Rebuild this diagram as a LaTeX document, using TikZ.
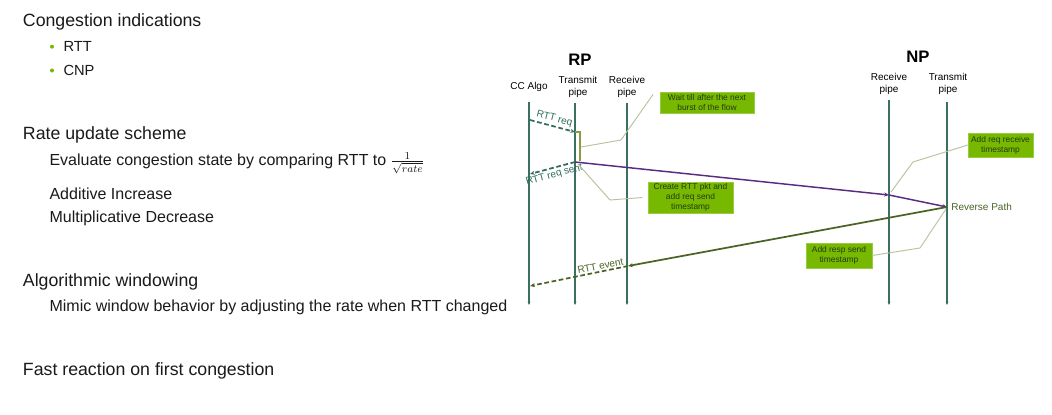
\documentclass[tikz,border=0pt]{standalone}
\usepackage{fontspec}
\setmainfont{Liberation Sans}
\usetikzlibrary{arrows.meta,positioning}
\definecolor{nvgreen}{HTML}{76B900}
\definecolor{bodytext}{HTML}{1A1A1A}
\definecolor{lifeteal}{HTML}{3B6F62}
\definecolor{reqteal}{HTML}{2F6E5C}
\definecolor{pktpurple}{HTML}{5A2B82}
\definecolor{respolive}{HTML}{4B6426}
\definecolor{calloutgrey}{HTML}{B9C19E}
\definecolor{bracketolive}{HTML}{8E9B45}
\definecolor{boxtext}{HTML}{263A0E}

\begin{document}
\begin{tikzpicture}[x=0.75pt, y=-0.75pt, >={Stealth[length=3.6pt,width=3pt]},
      headline/.style={anchor=base west, inner sep=0pt, text=bodytext, font=\fontsize{13.3}{16}\selectfont},
      subline/.style={anchor=base west, inner sep=0pt, text=bodytext, font=\fontsize{12}{14}\selectfont},
      itemline/.style={anchor=base west, inner sep=0pt, text=bodytext, font=\fontsize{11}{13}\selectfont},
      bulletdot/.style={circle, fill=nvgreen, inner sep=0pt, minimum size=3pt},
      side/.style={inner sep=0pt, font=\fontsize{12.5}{14}\selectfont\bfseries},
      pipelbl/.style={align=center, inner sep=0pt, font=\fontsize{7.5}{9}\selectfont},
      msglbl/.style={inner sep=1.5pt, font=\fontsize{7.5}{8}\selectfont},
      note/.style={fill=nvgreen, draw=nvgreen!75!white, align=center, text=boxtext, inner sep=1pt, font=\fontsize{6.3}{7.6}\selectfont},
      life/.style={-{Stealth[length=2.5pt,width=2.2pt]}, draw=lifeteal, line width=1.3pt},
      req/.style={->, draw=reqteal, line width=1.3pt, dash pattern=on 3.5pt off 2pt},
      pkt/.style={->, draw=pktpurple, line width=1.1pt},
      resp/.style={->, draw=respolive, line width=1.3pt},
      callout/.style={draw=calloutgrey, line width=0.7pt}
    ]
    \path[use as bounding box, fill=white] (0,0) rectangle (1052,414);

    \node[headline] (hIndic) at (22.7,26.7) {Congestion indications};
    \node[itemline] (bRtt) at (63.3,51.7) {RTT};
    \node[itemline] (bCnp) at (63.3,75) {CNP};
    \node[bulletdot] (dRtt) at (52,46.7) {};
    \node[bulletdot] (dCnp) at (52,70.5) {};
    \node[headline] (hRate) at (22.7,139.3) {Rate update scheme};
    \node[subline] (sEval) at (49.3,165.7) {Evaluate congestion state by comparing RTT to $\frac{1}{\sqrt{rate}}$};
    \node[subline] (sAdd) at (49.3,199) {Additive Increase};
    \node[subline] (sMul) at (49.3,222.3) {Multiplicative Decrease};
    \node[headline] (hWin) at (22.7,286.7) {Algorithmic windowing};
    \node[subline] (sMimic) at (49.3,311.7) {Mimic window behavior by adjusting the rate when RTT changed};
    \node[headline] (hFast) at (22.7,375) {Fast reaction on first congestion};

    \node[side] (rp) at (580,60) {RP};
    \node[side] (np) at (918,57) {NP};
    \node[pipelbl] (ccalgo) at (529,87) {CC Algo};
    \node[pipelbl] (rptx) at (578,87) {Transmit\\pipe};
    \node[pipelbl] (rprx) at (627,86.5) {Receive\\pipe};
    \node[pipelbl] (nprx) at (889,84) {Receive\\pipe};
    \node[pipelbl] (nptx) at (948,84) {Transmit\\pipe};

    \foreach \n/\x/\t in {cc/529/102, tx/575/103, rx/627/103, nrx/889/100, ntx/947/102} {
      \coordinate (\n top) at (\x,\t);
      \coordinate (\n bot) at (\x,305);
      \draw[life] (\n top) -- (\n bot);
    }

    \node[note, minimum width=70.5pt, minimum height=15.75pt] (wait) at (707,102.5) {Wait till after the next\\burst of the flow};
    \node[note, minimum width=63.75pt, minimum height=23.25pt] (create) at (690.5,197.5) {Create RTT pkt and\\add req send\\timestamp};
    \node[note, minimum width=48.75pt, minimum height=18pt] (recvts) at (1000.5,145) {Add req receive\\timestamp};
    \node[note, minimum width=49.5pt, minimum height=18.75pt] (respts) at (839,255.5) {Add resp send\\timestamp};
    \node[anchor=west, inner sep=0pt, text=respolive, font=\fontsize{7.5}{9}\selectfont] (revpath) at (951,207) {Reverse Path};

    \coordinate (ccReq) at (530,120);
    \coordinate (txReq) at (575,132);
    \coordinate (wTop) at (580,132);
    \coordinate (wBot) at (580,161);
    \coordinate (wMid) at (581,147);
    \coordinate (wKink) at (621,140);
    \coordinate (txSent) at (575,162);
    \coordinate (ccSent) at (530,174);
    \coordinate (cStart) at (578,164);
    \coordinate (cKink) at (610,200);
    \coordinate (npRx) at (889,195);
    \coordinate (npTx) at (947,207);
    \coordinate (rStart) at (891,192);
    \coordinate (rKink) at (913,162);
    \coordinate (sKink) at (920,248);
    \coordinate (sEnd) at (946,209);
    \coordinate (rpRx) at (628,266);
    \coordinate (ccEvt) at (530,286);

    \draw[req] (ccReq) -- node[msglbl, sloped, above, text=reqteal] (lblReq) {RTT req} (txReq);
    \draw[draw=bracketolive, line width=0.8pt] (txReq) -- (wTop) -- (wBot);
    \draw[callout] (wMid) -- (wKink) -- ([xshift=-5pt,yshift=-2pt]wait.north west);
    \draw[req] (txSent) -- node[msglbl, sloped, below, text=reqteal] (lblSent) {RTT req sent} (ccSent);
    \draw[callout] (cStart) -- (cKink) -- ([xshift=-4pt]create.west);
    \draw[pkt] (txSent) -- (npRx);
    \draw[pkt] (npRx) -- (npTx);
    \draw[callout] (rStart) -- (rKink) -- (recvts.west);
    \draw[resp] (npTx) -- (rpRx);
    \draw[resp, dash pattern=on 3.5pt off 2pt] (rpRx) -- node[msglbl, sloped, above, pos=0.27, inner sep=1pt, text=respolive] (lblEvt) {RTT event} (ccEvt);
    \draw[callout] (respts.east) -- (sKink) -- (sEnd);
  \end{tikzpicture}
\end{document}
